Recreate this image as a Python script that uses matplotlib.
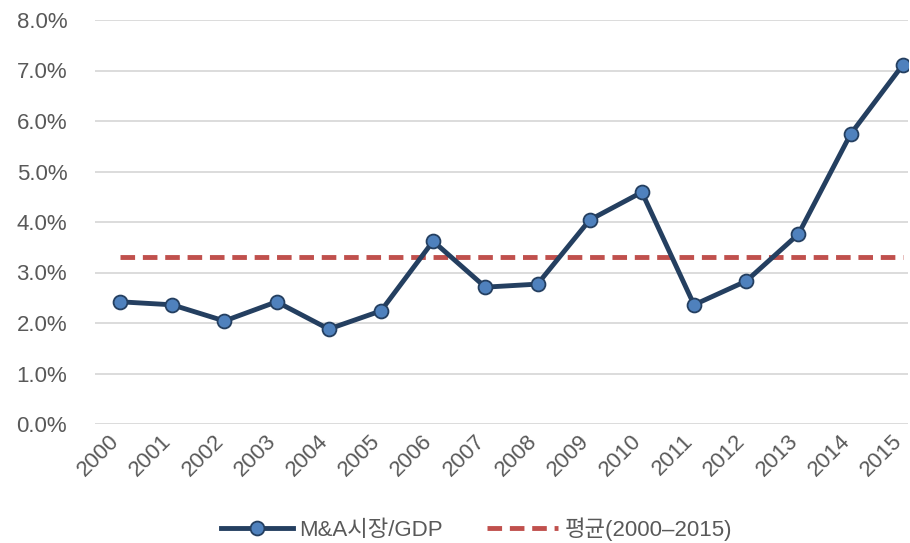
import matplotlib
matplotlib.use("Agg")
import matplotlib.pyplot as plt
from matplotlib.ticker import FuncFormatter

# data
years = ['2000', '2001', '2002', '2003', '2004', '2005', '2006', '2007',
         '2008', '2009', '2010', '2011', '2012', '2013', '2014', '2015']
ma_gdp = [2.42, 2.36, 2.04, 2.42, 1.88, 2.24, 3.62, 2.71,
          2.77, 4.04, 4.59, 2.36, 2.83, 3.76, 5.74, 7.11]
avg_value = 3.31

plt.rcParams['font.family'] = ['Liberation Sans', 'Noto Sans CJK KR']

fig = plt.figure(figsize=(9.1, 5.43), dpi=100)
ax = fig.add_axes([95 / 910, 1 - 424 / 543, 813 / 910, 404 / 543])

x = list(range(len(years)))
ax.plot(x, [avg_value] * len(x), color='#C0504D', linewidth=3.5,
        linestyle=(0, (3, 1.6)), label='평균(2000\u20122015)', zorder=2)
ax.plot(x, ma_gdp, color='#243F60', linewidth=3.5, marker='o', markersize=10,
        markerfacecolor='#4F81BD', markeredgecolor='#243F60', markeredgewidth=1.3,
        label='M&A시장/GDP', zorder=3)

ax.set_xlim(-0.48, 15.1)
ax.set_ylim(0, 8)
ax.set_yticks(range(0, 9))
ax.yaxis.set_major_formatter(FuncFormatter(lambda v, p: f'{v:.1f}%'))
ax.set_xticks(x)
ax.set_xticklabels([])

# slanted year labels, nudged a little left of each tick like the original
for xi, yr in zip(x, years):
    ax.annotate(yr, xy=(xi, 0), xycoords=('data', 'axes fraction'),
                xytext=(-8, -5), textcoords='offset points',
                rotation=45, ha='right', va='top', rotation_mode='anchor',
                fontsize=16, color='#595959', annotation_clip=False)

ax.grid(axis='y', color='#D9D9D9', linewidth=1.3)
ax.set_axisbelow(True)
for s in ax.spines.values():
    s.set_visible(False)
ax.tick_params(length=0, labelsize=16, labelcolor='#595959')
ax.tick_params(axis='y', pad=20)

handles, labels = ax.get_legend_handles_labels()
leg = fig.legend(handles[::-1], labels[::-1], loc='center', bbox_to_anchor=(477 / 910, 1 - 529 / 543),
                 ncol=2, frameon=False, fontsize=16, handlelength=3.2, columnspacing=2.0,
                 handletextpad=0.3)
for t in leg.get_texts():
    t.set_color('#595959')

fig.savefig('out.png', dpi=100)
